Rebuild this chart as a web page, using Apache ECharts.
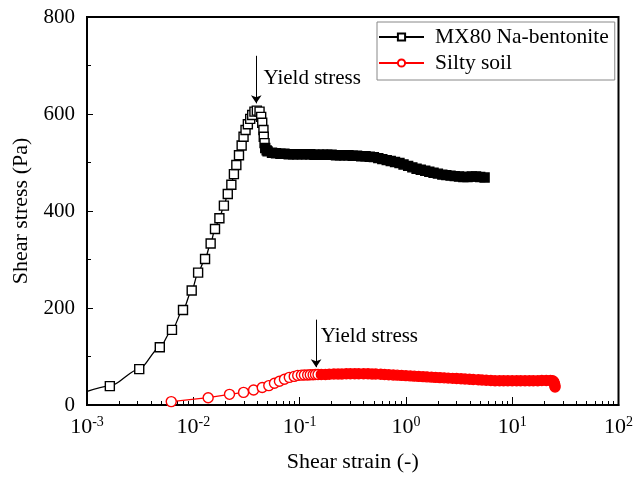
<!DOCTYPE html>
<html>
<head>
<meta charset="utf-8">
<script src="https://cdn.jsdelivr.net/npm/echarts@6/dist/echarts.min.js"></script>
<style>
html, body { margin: 0; padding: 0; background: #fff; }
#chart { width: 636px; height: 478px; }
</style>
</head>
<body>
<div id="chart"></div>
<script>
// MX80 Na-bentonite: strain (-) / stress (Pa)
var bentoniteStrain = [0.0008, 0.00164, 0.0031, 0.00484, 0.0063, 0.0080, 0.00966, 0.0111, 0.0129, 0.01456, 0.0160,
  0.0176, 0.0194, 0.0211, 0.0228, 0.0241, 0.0254, 0.0269, 0.0285, 0.0297, 0.0310, 0.0326, 0.0343, 0.0358,
  0.0376, 0.0396, 0.0420, 0.0435, 0.0445, 0.0457, 0.0460, 0.0468, 0.0475, 0.049,
  0.050, 0.055, 0.060, 0.066, 0.072, 0.079, 0.087, 0.095, 0.105, 0.115, 0.126, 0.138, 0.152, 0.166, 0.182,
  0.200, 0.220, 0.240, 0.263, 0.288, 0.316, 0.347, 0.380, 0.417, 0.457, 0.500, 0.550, 0.600, 0.660, 0.720,
  0.790, 0.870, 0.950, 1.05, 1.15, 1.26, 1.38, 1.52, 1.66, 1.82, 2.00, 2.20, 2.40, 2.63, 2.88, 3.16, 3.47,
  3.80, 4.17, 4.57, 5.00, 5.50];
var bentoniteStress = [20, 39, 74, 119, 155, 196, 236, 273, 301, 333, 363,
  385, 411, 435, 454, 476, 495, 515, 535, 553, 567, 579, 590, 598,
  605, 607, 605, 594, 582, 567, 553, 540, 530, 525,
  523, 520, 519, 518, 518, 517, 517, 517, 517, 517, 517, 516, 516, 516, 516,
  516, 515, 515, 515, 515, 514, 514, 513, 513, 512, 511, 509, 507, 505, 503,
  501, 499, 496, 493, 490, 487, 485, 483, 481, 479, 477, 475, 474, 473, 472, 471, 470,
  470, 471, 471, 470, 469];

// Silty soil
var siltStrain = [0.0062, 0.0138, 0.0219, 0.0297, 0.0369, 0.0445, 0.0513, 0.058, 0.0646, 0.072, 0.080,
  0.089, 0.096, 0.104, 0.111, 0.119, 0.126, 0.134, 0.141, 0.149,
  0.16, 0.175, 0.19, 0.21, 0.23, 0.25, 0.275, 0.30, 0.33, 0.36, 0.40, 0.44, 0.48, 0.52, 0.58, 0.63, 0.69,
  0.76, 0.83, 0.91, 1.0, 1.1, 1.2, 1.32, 1.45, 1.58, 1.74, 1.9, 2.09, 2.29, 2.5, 2.75, 3.0, 3.3, 3.6,
  3.96, 4.3, 4.8, 5.2, 5.7, 6.3, 6.9, 7.6, 8.3, 9.1, 10, 11, 12, 13.2, 14.5, 15.8, 17.4, 19, 20.9, 22.9,
  24.0, 24.6, 25.0, 25.2, 25.3];
var siltStress = [7, 15, 22, 26, 31, 36, 40, 45, 49, 53, 57,
  59, 61, 61.5, 62, 62, 62.5, 62.5, 63, 63,
  63, 63, 63.5, 64, 64, 64, 64.5, 64.5, 64.5, 64.5, 64.5, 64.5, 64, 64, 63.5, 63, 62.5,
  62, 61.5, 61, 60.5, 60, 59.5, 59, 58.5, 58, 57.5, 57, 56.5, 56, 55.5, 55, 54.5, 54, 53.5,
  53, 52.5, 52, 51.5, 51, 50.5, 50, 50, 50, 50, 50, 50, 50, 50, 50, 50, 50, 50.5, 50.5, 50.5,
  50, 48, 44, 40, 37];

var xMajorTicks = [0.001, 0.01, 0.1, 1, 10, 100];
var xTickLabels = ['-3', '-2', '-1', '0', '1', '2'];

// annotation arrows: strain, arrow start / end stress, label position
var yieldNotes = [
  {strain: 0.0391, from: 720, to: 622, textStrain: 0.0452, textStress: 674},
  {strain: 0.143, from: 176, to: 78, textStrain: 0.156, textStress: 142}
];

var FONT = "'Liberation Serif', 'Times New Roman', serif";

var xMinorTicks = [];
for (var d = -3; d < 2; d++) {
  for (var m = 2; m < 10; m++) xMinorTicks.push(m * Math.pow(10, d));
}

function buildData(xs, ys, fillFrom, fillColor) {
  var out = [];
  for (var i = 0; i < xs.length; i++) {
    var item = {value: [xs[i], ys[i]]};
    if (xs[i] >= fillFrom) item.itemStyle = {color: fillColor};
    out.push(item);
  }
  return out;
}

function yieldMarks(note) {
  return {
    markLine: {
      silent: true, animation: false,
      symbol: ['none', 'arrow'], symbolSize: 8,
      label: {show: false},
      lineStyle: {color: '#000', width: 1, type: 'solid'},
      data: [[{coord: [note.strain, note.from]}, {coord: [note.strain, note.to]}]]
    },
    markPoint: {
      silent: true, animation: false,
      symbol: 'circle', symbolSize: 1,
      itemStyle: {color: 'rgba(0,0,0,0)'},
      label: {show: true, position: 'right', distance: 0, formatter: 'Yield stress',
        color: '#000', fontSize: 21, fontFamily: FONT},
      data: [{coord: [note.textStrain, note.textStress]}]
    }
  };
}

var chart = echarts.init(document.getElementById('chart'));

var bentSeries = {
  name: 'MX80 Na-bentonite', type: 'line',
  data: buildData(bentoniteStrain, bentoniteStress, 0.0472, '#000'),
  symbol: 'rect', symbolSize: 9, showAllSymbol: true,
  smooth: 0.3, smoothMonotone: 'x',
  itemStyle: {color: '#fff', borderColor: '#000', borderWidth: 1.4},
  lineStyle: {color: '#000', width: 1.3},
  z: 3
};
Object.assign(bentSeries, yieldMarks(yieldNotes[0]));

var siltSeries = {
  name: 'Silty soil', type: 'line',
  data: buildData(siltStrain, siltStress, 0.155, '#ff0000'),
  symbol: 'circle', symbolSize: 10, showAllSymbol: true,
  itemStyle: {color: '#fff', borderColor: '#ff0000', borderWidth: 1.4},
  lineStyle: {color: '#ff0000', width: 1.3},
  z: 4
};
Object.assign(siltSeries, yieldMarks(yieldNotes[1]));

chart.setOption({
  animation: false,
  backgroundColor: '#fff',
  grid: {left: 87, right: 16, top: 17, bottom: 73, show: true, borderColor: '#000', borderWidth: 2},
  legend: {
    orient: 'vertical', left: 377, top: 22,
    itemWidth: 45, itemHeight: 9, itemGap: 2,
    padding: [3, 6, 5, 1],
    borderColor: '#888', borderWidth: 1,
    textStyle: {color: '#000', fontSize: 21.5, fontFamily: FONT, lineHeight: 24, padding: [0, 0, 0, 6]},
    data: ['MX80 Na-bentonite', 'Silty soil']
  },
  xAxis: [{
    type: 'log', logBase: 10, min: 0.001, max: 100,
    name: 'Shear strain (-)', nameLocation: 'middle', nameGap: 46,
    nameTextStyle: {color: '#000', fontSize: 22, fontFamily: FONT},
    axisLine: {lineStyle: {color: '#000', width: 2}},
    axisTick: {inside: true, length: 8, lineStyle: {color: '#000', width: 1}, customValues: xMajorTicks},
    axisLabel: {
      customValues: xMajorTicks, margin: 10, color: '#000',
      formatter: function (v) {
        var i = xMajorTicks.indexOf(v);
        if (i < 0) i = Math.round(Math.log10(v)) + 3;
        return '{b|10}{s|' + xTickLabels[i] + '}';
      },
      rich: {
        b: {fontSize: 22, fontFamily: FONT, color: '#000', lineHeight: 24},
        s: {fontSize: 14, fontFamily: FONT, color: '#000', lineHeight: 14, verticalAlign: 'top'}
      }
    },
    splitLine: {show: false}
  }, {
    type: 'log', logBase: 10, min: 0.001, max: 100, position: 'bottom',
    axisLine: {show: false},
    axisTick: {inside: true, length: 4, lineStyle: {color: '#000', width: 1}, customValues: xMinorTicks},
    axisLabel: {show: false},
    splitLine: {show: false}
  }],
  yAxis: {
    type: 'value', min: 0, max: 800, interval: 200,
    name: 'Shear stress (Pa)', nameLocation: 'middle', nameGap: 52, nameRotate: 90,
    nameTextStyle: {color: '#000', fontSize: 22, fontFamily: FONT},
    axisLine: {show: true, lineStyle: {color: '#000', width: 2}},
    axisTick: {show: true, inside: true, length: 6, lineStyle: {color: '#000', width: 1}},
    minorTick: {show: true, splitNumber: 2, length: 4, lineStyle: {color: '#000', width: 1}},
    axisLabel: {color: '#000', fontSize: 21, fontFamily: FONT, margin: 12},
    splitLine: {show: false}
  },
  series: [bentSeries, siltSeries]
});
</script>
</body>
</html>
